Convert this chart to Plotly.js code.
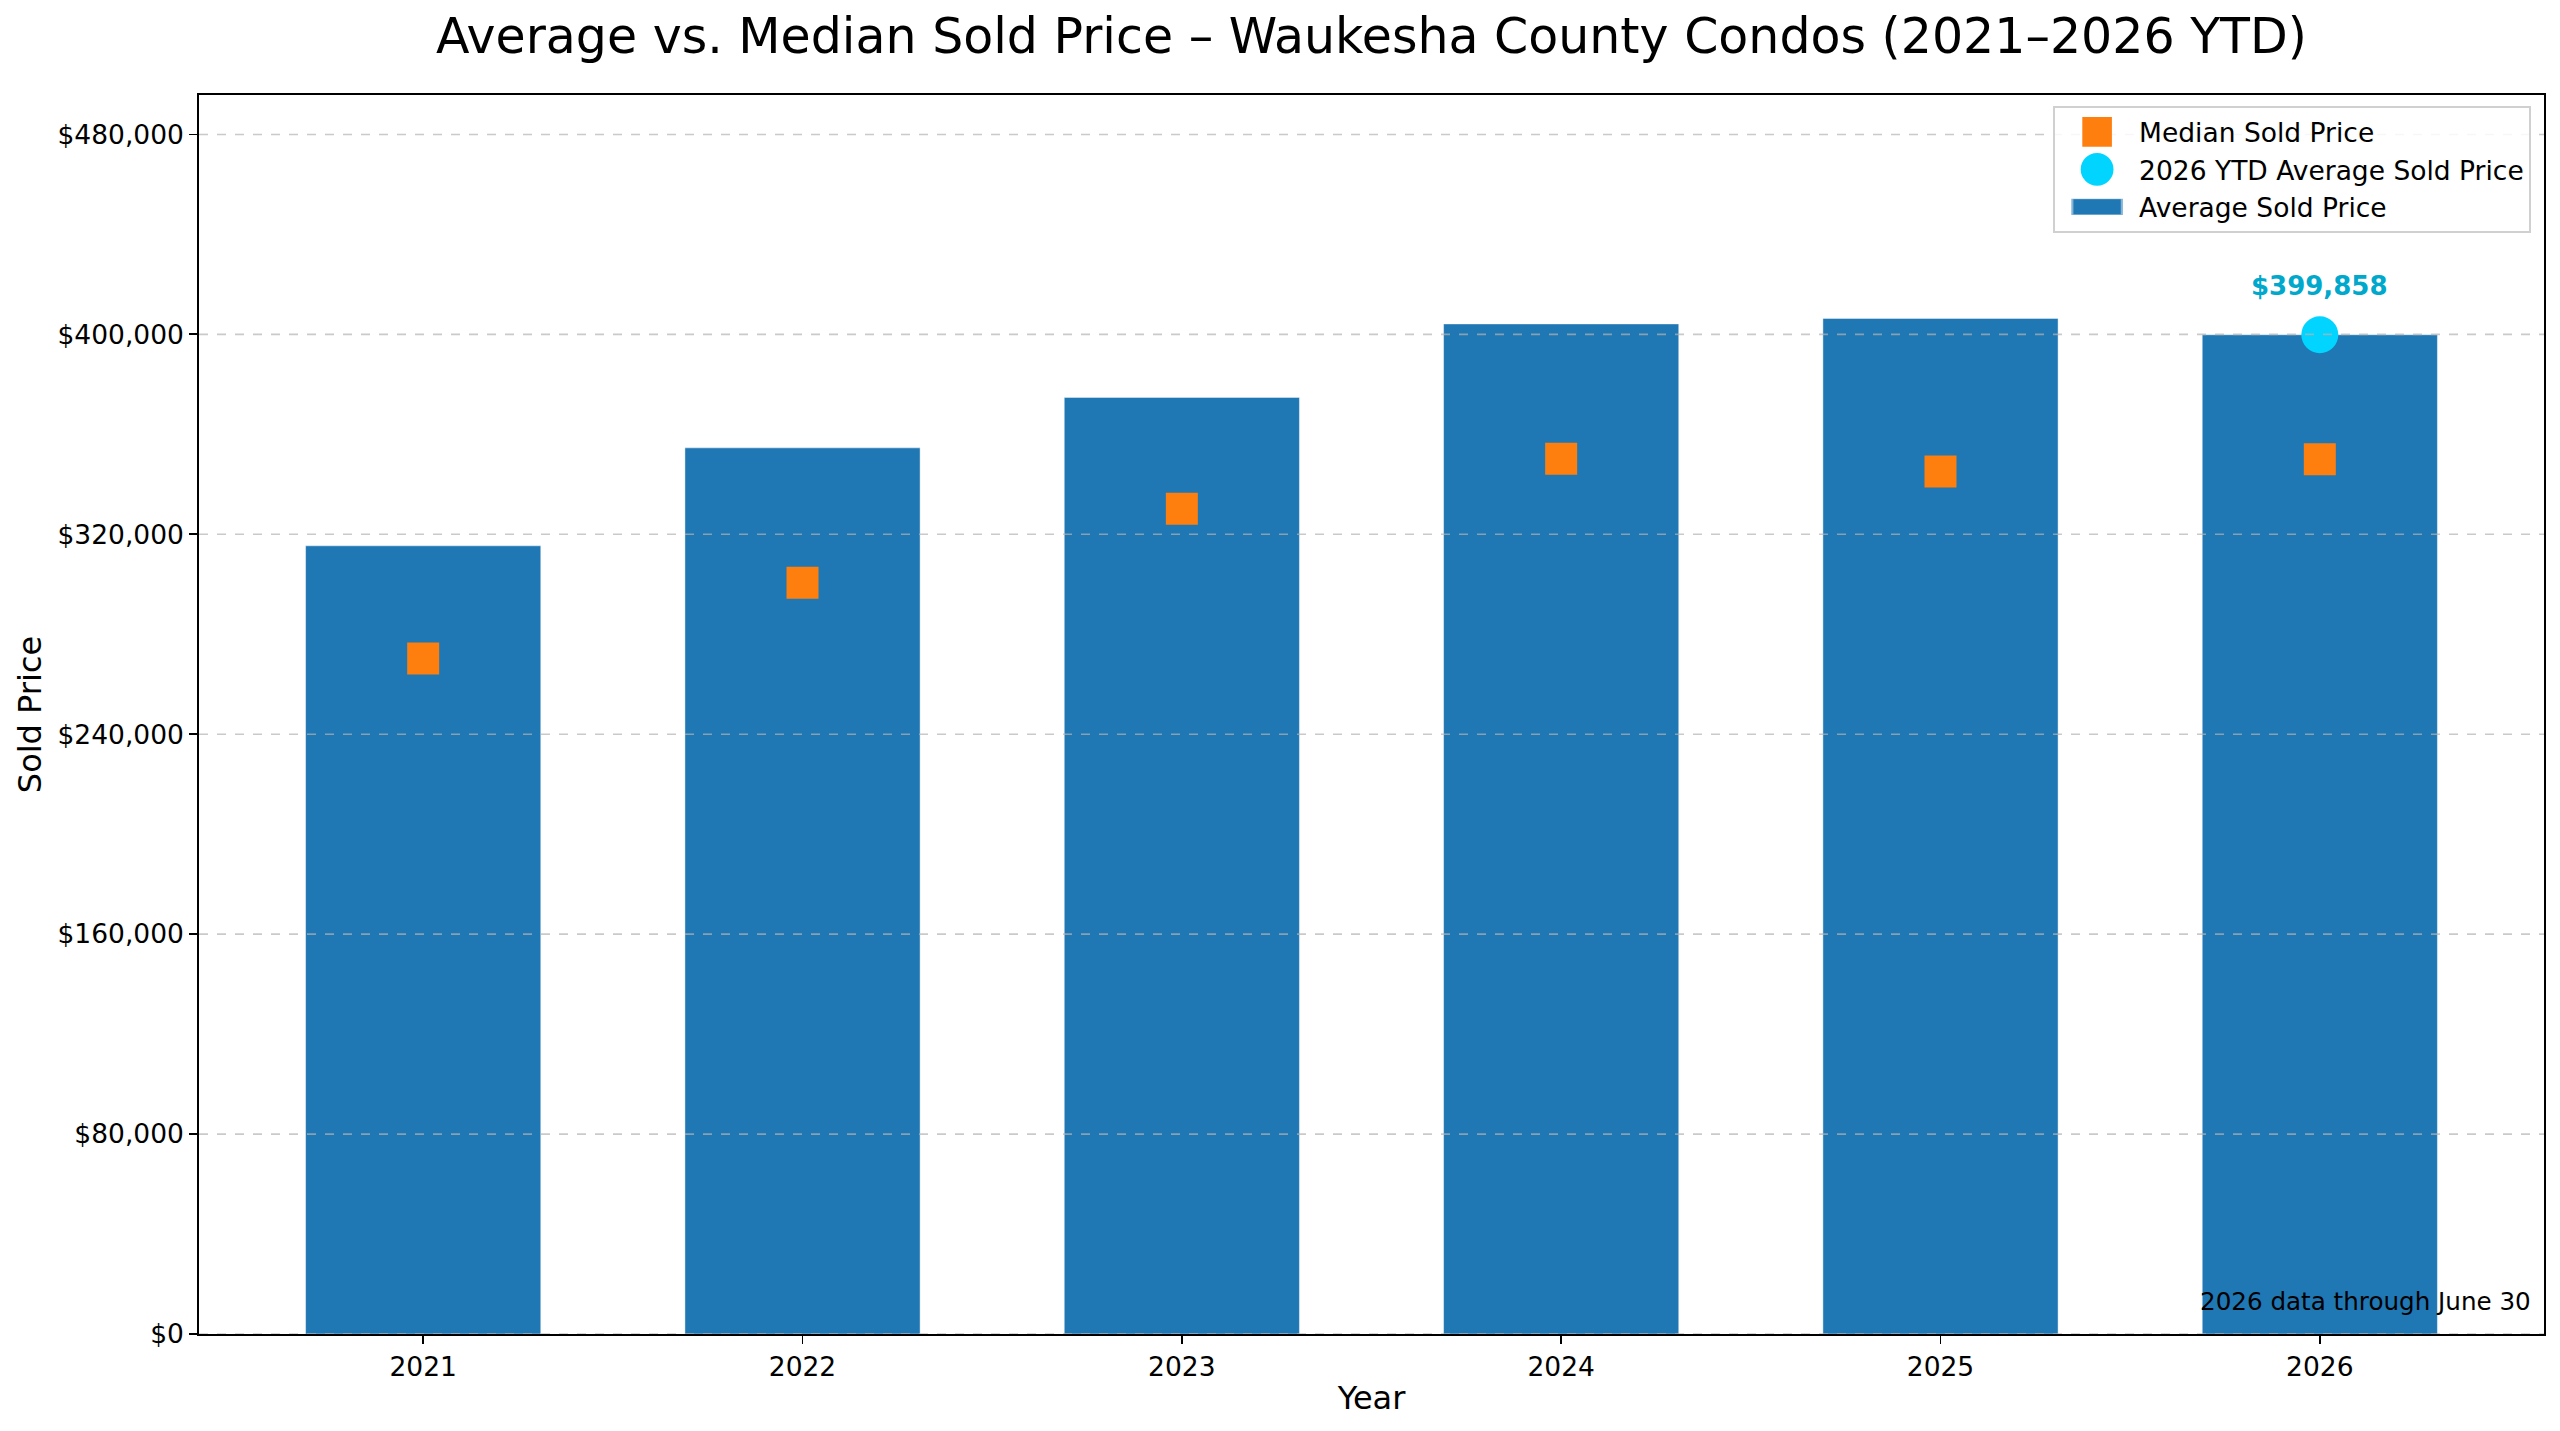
<!DOCTYPE html>
<html>
<head>
<meta charset="utf-8">
<script src="https://cdn.plot.ly/plotly-3.0.1.min.js"></script>
<style>
  html, body { margin: 0; padding: 0; background: white; }
  #chart { width: 2560px; height: 1431px; }
</style>
</head>
<body>
<div id="chart"></div>
<script>
// Values
const years = ['2021', '2022', '2023', '2024', '2025', '2026'];
const avgPrice = [315400, 354600, 374800, 404200, 406400, 399858];
const medianPrice = [270300, 300600, 330200, 350200, 345100, 350000];
const ytdYear = ['2026'];
const ytdAvg = [399858];
const yTicks = [0, 80000, 160000, 240000, 320000, 400000, 480000];

const font = 'DejaVu Sans, sans-serif';
// a bare "$" can be read as TeX by Plotly, so use the entity
const money = v => '&#36;' + v.toLocaleString('en-US');

const traces = [
  {
    x: years,
    y: medianPrice,
    type: 'scatter',
    mode: 'markers',
    name: 'Median Sold Price',
    marker: { symbol: 'square', size: 32, color: '#ff7f0e' },
    hoverinfo: 'skip'
  },
  {
    x: ytdYear,
    y: ytdAvg,
    type: 'scatter',
    mode: 'markers',
    name: '2026 YTD Average Sold Price',
    marker: { symbol: 'circle', size: 37, color: '#00d4ff' },
    hoverinfo: 'skip'
  },
  {
    x: years,
    y: avgPrice,
    type: 'bar',
    name: 'Average Sold Price',
    width: 0.62,
    marker: { color: '#1f77b4', line: { width: 1, color: 'rgba(255,255,255,0.45)' } },
    hoverinfo: 'skip'
  }
];

// dashed grid drawn over the bars like the original
const gridShapes = yTicks.map(v => ({
  type: 'line', xref: 'paper', yref: 'y',
  x0: 0, x1: 1, y0: v, y1: v,
  layer: 'above',
  line: { color: 'rgba(180,180,180,0.7)', width: 1.6, dash: 'dash' }
}));

const layout = {
  width: 2560,
  height: 1431,
  margin: { l: 199, r: 16, t: 95, b: 97 },
  paper_bgcolor: 'white',
  plot_bgcolor: 'white',
  font: { family: font, color: '#000', size: 26 },
  title: {
    text: 'Average vs. Median Sold Price – Waukesha County Condos (2021–2026 YTD)',
    font: { family: font, size: 49, color: '#000' },
    x: 0.5357, xanchor: 'center',
    y: 0.975, yanchor: 'middle'
  },
  showlegend: true,
  legend: {
    x: 0.9945, xanchor: 'right',
    y: 0.991, yanchor: 'top',
    bgcolor: 'rgba(255,255,255,0.85)',
    bordercolor: '#d0d0d0',
    borderwidth: 2,
    itemwidth: 74,
    font: { family: font, size: 26.5, color: '#000' },
    traceorder: 'normal'
  },
  xaxis: {
    type: 'category',
    range: [-0.591, 5.591],
    title: { text: 'Year', font: { family: font, size: 32 }, standoff: 6 },
    tickfont: { family: font, size: 26.5 },
    ticks: 'outside', ticklen: 8, tickwidth: 1.8, tickcolor: '#000',
    showline: true, linecolor: '#000', linewidth: 1.8, mirror: true,
    showgrid: false, zeroline: false,
    automargin: false
  },
  yaxis: {
    range: [0, 495800],
    tickvals: yTicks,
    ticktext: yTicks.map(money),
    title: { text: 'Sold Price', font: { family: font, size: 32 }, standoff: 6 },
    tickfont: { family: font, size: 26.5 },
    ticks: 'outside', ticklen: 8, tickwidth: 1.8, tickcolor: '#000',
    showline: true, linecolor: '#000', linewidth: 1.8, mirror: true,
    showgrid: false, zeroline: false,
    automargin: false
  },
  shapes: gridShapes,
  annotations: [
    {
      // category index of the YTD year
      x: years.indexOf(ytdYear[0]), y: ytdAvg[0], xref: 'x', yref: 'y',
      text: '<b>' + money(ytdAvg[0]) + '</b>',
      showarrow: false, xanchor: 'center', yanchor: 'middle', yshift: 49,
      font: { family: font, size: 26, color: '#00a8cc' }
    },
    {
      x: 0.9955, y: 0.013, xref: 'paper', yref: 'paper',
      xanchor: 'right', yanchor: 'bottom',
      text: '2026 data through June 30',
      showarrow: false,
      font: { family: font, size: 24.6, color: '#000' }
    }
  ]
};

Plotly.newPlot('chart', traces, layout, { displayModeBar: false, staticPlot: true })
  .then(gd => {
    // plotly caps legend swatch size; enlarge them to match the original
    const scales = ['1.85', '2.05', '4.3,1.35'];
    gd.querySelectorAll('.legend .traces').forEach((item, i) => {
      item.querySelectorAll('.legendpoints path').forEach(p => {
        p.setAttribute('transform', (p.getAttribute('transform') || '') + ' scale(' + scales[i] + ')');
      });
    });
  });
</script>
</body>
</html>
